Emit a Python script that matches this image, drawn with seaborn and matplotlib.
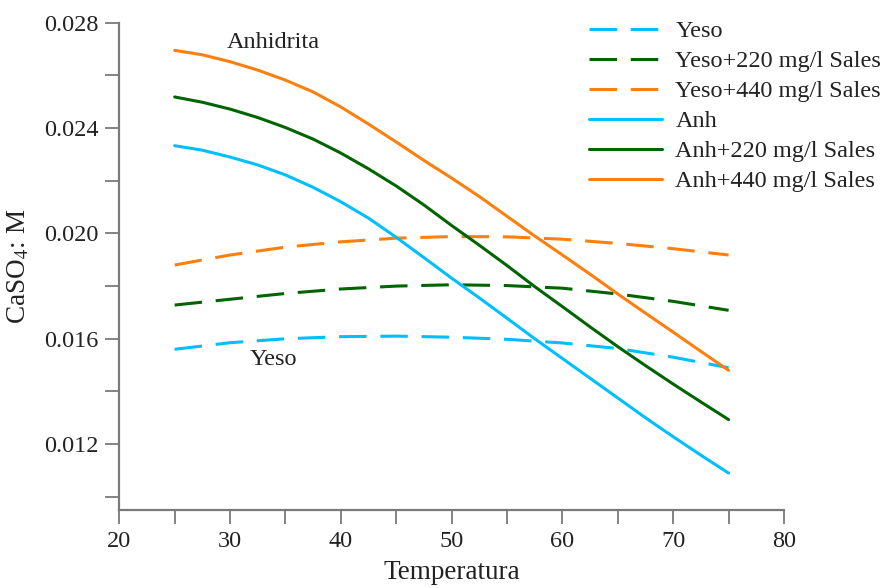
import matplotlib
matplotlib.use("Agg")
import matplotlib.pyplot as plt
import seaborn as sns
import pandas as pd
from matplotlib.ticker import MultipleLocator, FixedLocator

# Gypsum (Yeso) curves, read every 5 degrees
temp_yeso = [25, 30, 35, 40, 45, 50, 55, 60, 65, 70, 75]
yeso = [0.01560, 0.01585, 0.01600, 0.01608, 0.01610, 0.01606, 0.01598, 0.01584, 0.01563, 0.01530, 0.01490]
yeso_220 = [0.01728, 0.01750, 0.01772, 0.01789, 0.01800, 0.01805, 0.01802, 0.01792, 0.01770, 0.01742, 0.01708]
yeso_440 = [0.01880, 0.01918, 0.01948, 0.01968, 0.01982, 0.01988, 0.01987, 0.01978, 0.01962, 0.01942, 0.01918]

# Anhydrite curves, read every 2.5 degrees
temp_anh = [25, 27.5, 30, 32.5, 35, 37.5, 40, 42.5, 45, 47.5, 50,
            52.5, 55, 57.5, 60, 62.5, 65, 67.5, 70, 72.5, 75]
anh = [0.02333, 0.02316, 0.02290, 0.02260, 0.02222, 0.02175, 0.02120, 0.02058, 0.01985, 0.01908, 0.01830,
       0.01755, 0.01678, 0.01600, 0.01525, 0.01450, 0.01375, 0.01300, 0.01228, 0.01158, 0.01090]
anh_220 = [0.02518, 0.02498, 0.02472, 0.02440, 0.02402, 0.02358, 0.02305, 0.02245, 0.02180, 0.02108, 0.02030,
           0.01955, 0.01878, 0.01798, 0.01722, 0.01645, 0.01570, 0.01498, 0.01428, 0.01360, 0.01293]
anh_440 = [0.02695, 0.02678, 0.02652, 0.02620, 0.02582, 0.02537, 0.02480, 0.02415, 0.02347, 0.02277, 0.02210,
           0.02140, 0.02065, 0.01990, 0.01918, 0.01845, 0.01770, 0.01697, 0.01625, 0.01552, 0.01480]

labels = ["Yeso", "Yeso+220 mg/l Sales", "Yeso+440 mg/l Sales",
          "Anh", "Anh+220 mg/l Sales", "Anh+440 mg/l Sales"]
series = [(temp_yeso, yeso), (temp_yeso, yeso_220), (temp_yeso, yeso_440),
          (temp_anh, anh), (temp_anh, anh_220), (temp_anh, anh_440)]

sns.set_style("ticks")
plt.rcParams["font.family"] = ["Liberation Serif", "DejaVu Serif"]
plt.rcParams["mathtext.fontset"] = "stix"

fig = plt.figure(figsize=(8.88, 5.88), dpi=100)
ax = fig.add_axes([0.1343, 0.1327, 0.8829 - 0.1343, 0.9614 - 0.1327])

colors = ["#00BFFF", "#006400", "#FF7F0E"] * 2
dashed = (0, (9, 4.5))
for i, (lab, (tx, vals)) in enumerate(zip(labels, series)):
    df = pd.DataFrame({"T": tx, "C": vals})
    ls = dashed if i < 3 else "-"
    sns.lineplot(data=df, x="T", y="C", ax=ax, color=colors[i], linewidth=2.2,
                 linestyle=ls, label=lab)
for line in ax.get_lines():
    line.set_solid_joinstyle("round")
    line.set_dash_joinstyle("round")

ax.set_xlim(20, 80)
ax.set_ylim(0.0095, 0.028)
ax.xaxis.set_major_locator(MultipleLocator(10))
ax.xaxis.set_minor_locator(MultipleLocator(5))
ax.yaxis.set_major_locator(FixedLocator([0.012, 0.016, 0.020, 0.024, 0.028]))
ax.yaxis.set_minor_locator(FixedLocator([0.010, 0.014, 0.018, 0.022, 0.026]))
ax.yaxis.set_major_formatter(matplotlib.ticker.FuncFormatter(lambda v, p: f"{v:.3f}"))

for s in ["top", "right"]:
    ax.spines[s].set_visible(False)
for s in ["left", "bottom"]:
    ax.spines[s].set_color("#7a7a7a")
    ax.spines[s].set_linewidth(1.6)
ax.tick_params(which="both", direction="out", length=10, width=1.3, color="#7a7a7a",
               labelsize=17.5, labelcolor="#222222", pad=5)

ax.set_xlabel("Temperatura", fontsize=19.5, color="#222222", labelpad=6)
ax.set_ylabel("CaSO$_4$: M", fontsize=19.5, color="#222222", labelpad=9)

ax.text(33.9, 0.02726, "Anhidrita", fontsize=17.5, ha="center", va="center", color="#222222")
ax.text(33.9, 0.01523, "Yeso", fontsize=17.5, ha="center", va="center", color="#222222")

leg = ax.legend(loc="upper left", bbox_to_anchor=(0.692, 1.025), frameon=False, fontsize=17.5,
                handlelength=3.0, handletextpad=0.55, labelspacing=0.33, borderaxespad=0)
for t in leg.get_texts():
    t.set_color("#222222")

fig.savefig("out.png", dpi=100)
